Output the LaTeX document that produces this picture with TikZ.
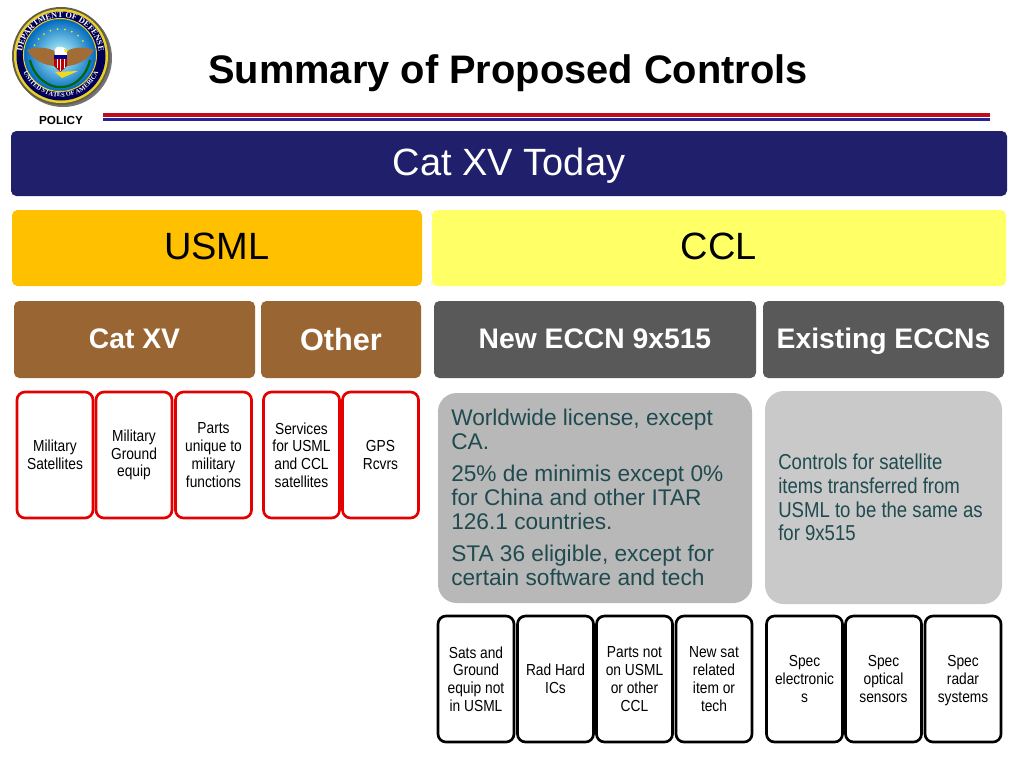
\documentclass[tikz,border=0pt]{standalone}
\usepackage{fontspec}
\setmainfont{Liberation Sans}
\newfontfamily\condfont[FakeStretch=0.86]{Liberation Sans}
\newfontfamily\sealfont{Liberation Serif}
\usepackage{tikz}
\usetikzlibrary{decorations.text}
\newcommand{\px}{0.75pt}
\definecolor{navybar}{HTML}{1F1F6B}
\definecolor{goldbar}{HTML}{FFC000}
\definecolor{lemonbar}{HTML}{FFFF66}
\definecolor{brownbar}{HTML}{996633}
\definecolor{slatebar}{HTML}{595959}
\definecolor{panelink}{HTML}{1F4A4F}
\definecolor{redline}{HTML}{C00D1E}
\definecolor{blueline}{HTML}{23239A}

\begin{document}
\begin{tikzpicture}[x=0.75pt,y=-0.75pt,
  bar/.style={rounded corners=4pt,inner sep=0pt,align=center},
  bigbar/.style={bar,fill=#1,font=\fontsize{28.5}{32}\selectfont,text height=21.6pt,text depth=4pt},
  head/.style={bar,fill=#1,text=white,font=\bfseries\fontsize{21.2}{24}\selectfont,text height=16pt,text depth=2pt},
  smallbox/.style={draw=#1,fill=white,line width=2pt,rounded corners=6pt,inner sep=0pt,
    minimum width=76*\px,minimum height=126*\px,align=center,
    font=\condfont\fontsize{12}{13.3}\selectfont},
  panel/.style={fill=#1,rounded corners=14pt,inner sep=0pt}]
\useasboundingbox (0,0) rectangle (1024,768);
\fill[white] (0,0) rectangle (1024,768);
% seal
\fill[black!55] (63,58) circle (49);
\fill[black!70!yellow] (61,56) circle (49);
\fill[yellow!65!brown] (61,56) circle (47);
\fill[blue!35!black] (61,56) circle (44.5);
\shade[inner color=cyan!25!white,outer color=cyan!55!blue!75!black] (60,55) circle (36);
\draw[yellow!70!brown,line width=0.8pt] (60,55) circle (36.5);
\foreach \ang in {205,220,...,335}
  \fill[yellow!85!orange] (60,57) ++(\ang:28) circle (1);
\fill[brown!85!black] (57,52) .. controls (45,46) and (35,47) .. (27,50) .. controls (33,60) and (45,66) .. (56,66) -- cycle;
\fill[brown!85!black] (65,52) .. controls (75,46) and (85,47) .. (94,50) .. controls (88,60) and (76,66) .. (66,66) -- cycle;
\fill[white] (55,55) .. controls (53,47) and (58,46) .. (62,47) .. controls (67,48) and (67,52) .. (67,55) -- cycle;
\fill[yellow!80!orange] (64,49) -- (69,51) -- (65,52) -- cycle;
\fill[blue!60!black] (54,55) rectangle (67,59);
\fill[red!75!black] (54,59) -- (67,59) -- (67,66) -- (60.5,72) -- (54,66) -- cycle;
\draw[white,line width=0.7pt] (57,59) -- (57,68) (60.5,59) -- (60.5,71) (64,59) -- (64,68);
\draw[green!40!black,line width=1.6pt] (30,60) .. controls (34,78) and (50,88) .. (60,87) .. controls (72,88) and (86,78) .. (90,60);
\fill[yellow!75!brown] (55,72) -- (78,71) -- (62,78) -- cycle;
\path[decorate,decoration={text along path,text align=center,
  text={|\sealfont\bfseries\fontsize{6.2}{7}\selectfont\color{white}|DEPARTMENT OF DEFENSE}}]
  (22.6,62.6) arc[start angle=170,end angle=370,radius=38.5];
\path[decorate,decoration={text along path,text align=center,
  text={|\sealfont\bfseries\fontsize{4.8}{5}\selectfont\color{white}|UNITED STATES OF AMERICA}}]
  (21.4,66.6) arc[start angle=165,end angle=15,radius=41];
\node[inner sep=0pt,font=\bfseries\fontsize{8.8}{10}\selectfont] (policy) at (61,120.5) {POLICY};
% title and rules
\node[inner sep=0pt,font=\bfseries\fontsize{29.85}{34}\selectfont] (title) at (508,73) {Summary of Proposed Controls};
\fill[redline] (103,113) rectangle (990,116.5);
\fill[blueline] (103,118) rectangle (990,121);
% bars
\node[bigbar=navybar,text=white,minimum width=996*\px,minimum height=65*\px] (cattoday) at (509,163.5) {Cat XV Today};
\node[bigbar=goldbar,minimum width=410*\px,minimum height=76*\px] (usml) at (217,248) {USML};
\node[bigbar=lemonbar,minimum width=574*\px,minimum height=76*\px] (ccl) at (719,248) {CCL};
\node[head=brownbar,minimum width=241*\px,minimum height=77*\px] (catxv) at (134.5,339.5) {Cat XV};
\node[head=brownbar,minimum width=160*\px,minimum height=77*\px,font=\bfseries\fontsize{23}{27}\selectfont,text height=18pt,text depth=2.2pt] (other) at (341,339.5) {Other};
\node[head=slatebar,minimum width=322*\px,minimum height=77*\px] (neweccn) at (595,339.5) {New ECCN 9x515};
\node[head=slatebar,minimum width=241*\px,minimum height=77*\px] (existing) at (883.5,339.5) {Existing ECCNs};
% panels
\node[panel=black!28,minimum width=314*\px,minimum height=210*\px] (panelnew) at (595,498) {};
\node[panel=black!21,minimum width=237*\px,minimum height=213*\px] (panelold) at (883.5,497.5) {};
\node[anchor=north west,inner sep=0pt,text=panelink,align=left,font=\fontsize{17}{18}\selectfont] (licensetxt) at (451,409)
  {Worldwide license, except\\CA.\\[6pt]25\% de minimis except 0\%\\for China and other ITAR\\126.1 countries.\\[6pt]STA 36 eligible, except for\\certain software and tech};
\node[anchor=west,inner sep=0pt,text=panelink,align=left,font=\condfont\fontsize{16.2}{17.8}\selectfont] (sametxt) at (778,497.5)
  {Controls for satellite\\items transferred from\\USML to be the same as\\for 9x515};
% small boxes
\foreach \nm/\cx/\txt in {milsat/55/Military\\Satellites,milground/134/Military\\Ground\\equip,
    partsmil/213.5/Parts\\unique to\\military\\functions,services/301.5/Services\\for USML\\and CCL\\satellites,
    gps/380.5/GPS\\Rcvrs}
  \node[smallbox=red!90!black] (\nm) at (\cx,455) {\txt};
\foreach \nm/\cx/\txt in {satsground/476/Sats and\\Ground\\equip not\\in USML,radhard/555.5/Rad Hard\\ICs,
    partsnot/634.5/Parts not\\on USML\\or other\\CCL,newsat/714/New sat\\related\\item or\\tech,
    specelec/804.5/Spec\\electronic\\s,specopt/883.5/Spec\\optical\\sensors,specradar/963/Spec\\radar\\\smash{systems}}
  \node[smallbox=black] (\nm) at (\cx,679) {\txt};
\end{tikzpicture}
\end{document}
